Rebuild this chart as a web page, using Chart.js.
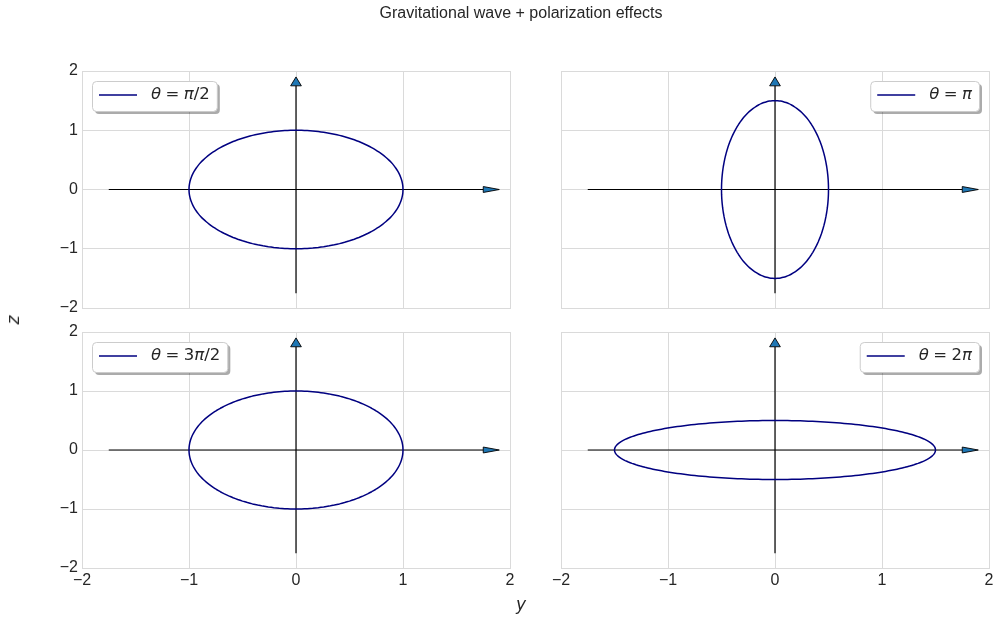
<!DOCTYPE html>
<html>
<head>
<meta charset="utf-8">
<script src="https://cdn.jsdelivr.net/npm/chart.js@4/dist/chart.umd.min.js"></script>
<style>
  html, body { margin: 0; padding: 0; background: #ffffff; }
  #fig { position: relative; width: 998px; height: 619px; overflow: hidden; background: #ffffff; }
  #fig canvas { position: absolute; left: 0; top: 0; }
  .txt { position: absolute; color: #262626; white-space: nowrap; }
  #title { font: 16px "Liberation Sans", Arial, sans-serif; left: 521px; top: 4px; transform: translateX(-50%); }
  #xlab { font: italic 17px "DejaVu Sans", sans-serif; left: 521px; top: 594px; transform: translateX(-50%); }
  #ylab { font: italic 17px "DejaVu Sans", sans-serif; left: 13px; top: 320px; transform: translate(-50%, -50%) rotate(-90deg); }
</style>
</head>
<body>
<div id="fig">
  <canvas id="c0" width="998" height="619"></canvas>
  <canvas id="c1" width="998" height="619"></canvas>
  <canvas id="c2" width="998" height="619"></canvas>
  <canvas id="c3" width="998" height="619"></canvas>
  <div class="txt" id="title">Gravitational wave + polarization effects</div>
  <div class="txt" id="xlab">y</div>
  <div class="txt" id="ylab">z</div>
</div>
<script>
// Polarization phases shown in each panel
const phaseLabels = ['θ = π/2', 'θ = π', 'θ = 3π/2', 'θ = 2π'];
// Semi-axes of the deformed ring of test masses (y and z directions)
const semiAxisY = [1.0, 0.5, 1.0, 1.5];
const semiAxisZ = [1.0, 1.5, 1.0, 0.5];
// Axis tick values
const tickValues = [-2, -1, 0, 1, 2];

const FIG_W = 998, FIG_H = 619;
const colLeft = [82, 561], colRight = [510, 989];
const rowTop = [71, 332], rowBottom = [308, 568];
const GRID = '#dadada';
const TEXT = '#262626';
const NAVY = '#000080';

// Ring of particles: points along the ellipse with the given semi-axes
function ringPoints(ay, az) {
  const pts = [];
  const n = 120;
  for (let k = 0; k <= n; k++) {
    const t = 2 * Math.PI * k / n;
    pts.push({ x: ay * Math.cos(t), y: az * Math.sin(t) });
  }
  return pts;
}

// Coordinate arrows through the origin, drawn in data space
const arrowPlugin = {
  id: 'axisArrows',
  beforeDatasetsDraw(chart, args, opts) {
    const { ctx, scales: { x, y } } = chart;
    const s = opts.start, e = opts.end, hl = opts.headLength, hw = opts.headWidth / 2;
    ctx.save();
    ctx.strokeStyle = '#000000';
    ctx.lineWidth = 1.2;
    // horizontal shaft
    ctx.beginPath();
    ctx.moveTo(x.getPixelForValue(s), y.getPixelForValue(0));
    ctx.lineTo(x.getPixelForValue(e), y.getPixelForValue(0));
    ctx.stroke();
    // vertical shaft
    ctx.beginPath();
    ctx.moveTo(x.getPixelForValue(0), y.getPixelForValue(s));
    ctx.lineTo(x.getPixelForValue(0), y.getPixelForValue(e));
    ctx.stroke();
    ctx.fillStyle = '#1f77b4';
    ctx.lineWidth = 0.9;
    ctx.lineJoin = 'miter';
    // horizontal head
    ctx.beginPath();
    ctx.moveTo(x.getPixelForValue(e), y.getPixelForValue(hw));
    ctx.lineTo(x.getPixelForValue(e + hl), y.getPixelForValue(0));
    ctx.lineTo(x.getPixelForValue(e), y.getPixelForValue(-hw));
    ctx.closePath();
    ctx.fill(); ctx.stroke();
    // vertical head
    ctx.beginPath();
    ctx.moveTo(x.getPixelForValue(-hw), y.getPixelForValue(e));
    ctx.lineTo(x.getPixelForValue(0), y.getPixelForValue(e + hl));
    ctx.lineTo(x.getPixelForValue(hw), y.getPixelForValue(e));
    ctx.closePath();
    ctx.fill(); ctx.stroke();
    ctx.restore();
  }
};

// Framed legend inside the plot area; Greek letters set in italic
const boxLegendPlugin = {
  id: 'boxLegend',
  afterDraw(chart, args, opts) {
    const ds = chart.data.datasets[0];
    const { ctx, chartArea: a } = chart;
    const size = 16.5;
    const upright = size + 'px "DejaVu Sans", sans-serif';
    const italic = 'italic ' + size + 'px "DejaVu Sans", sans-serif';
    const parts = [];
    for (const ch of ds.label) {
      parts.push({ ch, font: /[α-ω]/.test(ch) ? italic : upright });
    }
    ctx.save();
    let textW = 0;
    for (const p of parts) {
      ctx.font = p.font;
      p.w = ctx.measureText(p.ch).width * (p.ch === ' ' ? 0.85 : 1);
      textW += p.w;
    }
    const padL = 7, lineLen = 38, gap = 14, padR = 7, h = 30;
    const w = padL + lineLen + gap + textW + padR;
    const bx = opts.side === 'left' ? a.left + 10 : a.right - 10 - w;
    const by = a.top + 10;
    const rr = (X, Y, W, H, r) => {
      ctx.beginPath();
      ctx.moveTo(X + r, Y);
      ctx.arcTo(X + W, Y, X + W, Y + H, r);
      ctx.arcTo(X + W, Y + H, X, Y + H, r);
      ctx.arcTo(X, Y + H, X, Y, r);
      ctx.arcTo(X, Y, X + W, Y, r);
      ctx.closePath();
    };
    // shadow
    ctx.fillStyle = 'rgba(0,0,0,0.33)';
    rr(bx + 3, by + 3, w, h, 4); ctx.fill();
    // frame
    ctx.fillStyle = '#ffffff';
    ctx.strokeStyle = '#cccccc';
    ctx.lineWidth = 1;
    rr(bx + 0.5, by + 0.5, w, h, 4); ctx.fill(); ctx.stroke();
    // line sample
    const cy = by + h / 2;
    ctx.strokeStyle = ds.borderColor;
    ctx.lineWidth = 1.5;
    ctx.beginPath();
    ctx.moveTo(bx + padL, cy - 1);
    ctx.lineTo(bx + padL + lineLen, cy - 1);
    ctx.stroke();
    // label
    ctx.fillStyle = TEXT;
    ctx.textBaseline = 'middle';
    ctx.textAlign = 'left';
    let tx = bx + padL + lineLen + gap;
    for (const p of parts) { ctx.font = p.font; ctx.fillText(p.ch, tx, cy - 1); tx += p.w; }
    ctx.restore();
  }
};

const minus = v => (v < 0 ? '\u2212' + Math.abs(v) : String(v));

function makeChart(i) {
  const col = i % 2, row = Math.floor(i / 2);
  const yW = col === 0 ? 40 : 0;
  const xH = row === 1 ? 26 : 0;
  const tickFont = { family: '"Liberation Sans", Arial, sans-serif', size: 16 };
  return new Chart(document.getElementById('c' + i), {
    type: 'scatter',
    data: {
      datasets: [{
        label: phaseLabels[i],
        data: ringPoints(semiAxisY[i], semiAxisZ[i]),
        showLine: true,
        borderColor: NAVY,
        borderWidth: 1.5,
        borderJoinStyle: 'round',
        pointRadius: 0,
        // a light tension keeps the full path renderer (smooth outline)
        tension: 0.1,
        fill: false
      }]
    },
    options: {
      responsive: false,
      animation: false,
      devicePixelRatio: 1,
      events: [],
      layout: {
        padding: {
          left: colLeft[col] - yW,
          top: rowTop[row],
          right: FIG_W - colRight[col],
          bottom: FIG_H - rowBottom[row] - xH
        }
      },
      scales: {
        x: {
          type: 'linear', min: -2, max: 2,
          afterBuildTicks: s => { s.ticks = tickValues.map(v => ({ value: v })); },
          ticks: { display: row === 1, color: TEXT, font: tickFont, padding: 3, maxRotation: 0, callback: minus },
          grid: { color: GRID, lineWidth: 1, drawTicks: false },
          border: { color: GRID, width: 1 },
          afterFit: s => { s.height = xH; s.paddingLeft = 0; s.paddingRight = 0; }
        },
        y: {
          type: 'linear', min: -2, max: 2,
          afterBuildTicks: s => { s.ticks = tickValues.map(v => ({ value: v })); },
          ticks: { display: col === 0, color: TEXT, font: tickFont, padding: 4, callback: minus },
          grid: { color: GRID, lineWidth: 1, drawTicks: false },
          border: { color: GRID, width: 1 },
          afterFit: s => { s.width = yW; s.paddingTop = 0; s.paddingBottom = 0; }
        }
      },
      plugins: {
        legend: { display: false },
        tooltip: { enabled: false },
        title: { display: false },
        axisArrows: { start: -1.75, end: 1.75, headLength: 0.15, headWidth: 0.1 },
        boxLegend: { side: col === 0 ? 'left' : 'right' }
      }
    },
    plugins: [arrowPlugin, boxLegendPlugin]
  });
}

for (let i = 0; i < 4; i++) makeChart(i);
</script>
</body>
</html>
